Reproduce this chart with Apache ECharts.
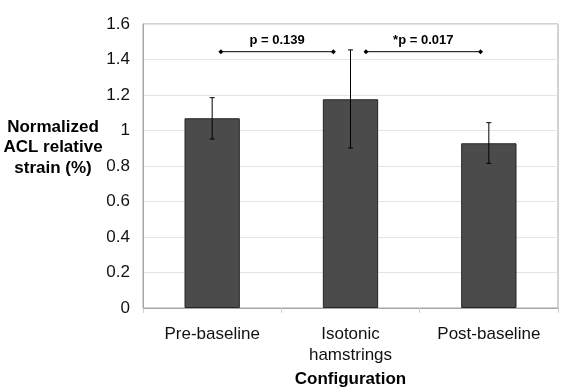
<!DOCTYPE html>
<html>
<head>
<meta charset="utf-8">
<script src="https://cdn.jsdelivr.net/npm/echarts@6/dist/echarts.min.js"></script>
<style>
  html, body { margin: 0; padding: 0; background: #fff; }
  #chart { width: 576px; height: 392px; }
</style>
</head>
<body>
<div id="chart"></div>
<script>
var categories = ['Pre-baseline', 'Isotonic\nhamstrings', 'Post-baseline'];
var means = [1.069, 1.176, 0.928];
var errLow = [0.952, 0.901, 0.815];
var errHigh = [1.185, 1.454, 1.044];
var yTicks = { min: 0, max: 1.6, interval: 0.2 };
// significance brackets: x in category index units, y in strain units
var bracket1 = [[0.063, 1.444], [0.876, 1.444]];
var bracket2 = [[1.112, 1.444], [1.94, 1.444]];
var bracketLabels = ['p = 0.139', '*p = 0.017'];

var font = 'Liberation Sans, Arial, sans-serif';
var chart = echarts.init(document.getElementById('chart'));

var errData = categories.map(function (c, i) { return [i, errLow[i], errHigh[i]]; });

function bracketSeries(pts, label) {
  return {
    type: 'line',
    xAxisIndex: 1,
    data: pts,
    symbol: 'diamond',
    symbolSize: 5,
    itemStyle: { color: '#000' },
    lineStyle: { color: '#000', width: 1 },
    silent: true,
    markPoint: {
      symbol: 'rect',
      symbolSize: 0,
      data: [{ coord: [(pts[0][0] + pts[1][0]) / 2, pts[0][1]] }],
      label: {
        show: true,
        formatter: label,
        offset: [0, -11],
        color: '#000',
        fontWeight: 'bold',
        fontSize: 13,
        fontFamily: font
      }
    }
  };
}

var option = {
  animation: false,
  title: {
    text: 'Normalized\nACL relative\nstrain (%)',
    left: 53,
    top: 117,
    textAlign: 'center',
    padding: 0,
    textStyle: {
      color: '#000', fontWeight: 'bold', fontSize: 17, fontFamily: font, lineHeight: 20.5
    }
  },
  grid: {
    left: 143, right: 18, top: 24, bottom: 84,
    outerBoundsMode: 'none',
    show: true, borderColor: '#a6a6a6', borderWidth: 1
  },
  xAxis: [{
    type: 'category',
    data: categories,
    axisLine: { lineStyle: { color: '#a6a6a6' } },
    axisTick: { show: true, length: 5, lineStyle: { color: '#d0d0d0' } },
    axisLabel: {
      color: '#111', fontSize: 17, fontFamily: font, margin: 16, lineHeight: 21
    },
    name: 'Configuration',
    nameLocation: 'middle',
    nameGap: 63,
    nameTextStyle: { color: '#000', fontWeight: 'bold', fontSize: 17, fontFamily: font }
  }, {
    type: 'value',
    min: -0.5, max: 2.5,
    show: false
  }],
  yAxis: {
    type: 'value',
    min: yTicks.min, max: yTicks.max, interval: yTicks.interval,
    axisLine: { show: true, onZero: false, lineStyle: { color: '#a6a6a6' } },
    axisTick: { show: false },
    splitLine: { lineStyle: { color: '#e4e4e4' } },
    axisLabel: { color: '#111', fontSize: 17, fontFamily: font, margin: 13 }
  },
  series: [{
    type: 'bar',
    data: means,
    barWidth: '40%',
    itemStyle: { color: '#4b4b4b', borderColor: '#262626', borderWidth: 1 }
  }, {
    type: 'custom',
    data: errData,
    renderItem: function (params, api) {
      var lo = api.coord([api.value(0), api.value(1)]);
      var hi = api.coord([api.value(0), api.value(2)]);
      var w = 2.5;
      var s = { stroke: '#000', lineWidth: 1 };
      return {
        type: 'group',
        children: [
          { type: 'line', shape: { x1: hi[0], y1: hi[1], x2: lo[0], y2: lo[1] }, style: s },
          { type: 'line', shape: { x1: hi[0] - w, y1: hi[1], x2: hi[0] + w, y2: hi[1] }, style: s },
          { type: 'line', shape: { x1: lo[0] - w, y1: lo[1], x2: lo[0] + w, y2: lo[1] }, style: s }
        ]
      };
    },
    z: 5
  },
    bracketSeries(bracket1, bracketLabels[0]),
    bracketSeries(bracket2, bracketLabels[1])
  ]
};

chart.setOption(option);
</script>
</body>
</html>
